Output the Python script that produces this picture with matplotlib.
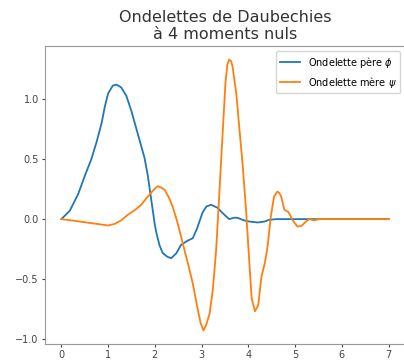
import matplotlib
matplotlib.use('Agg')
import matplotlib.pyplot as plt

# Daubechies db4 scaling function (phi) and wavelet (psi), sampled points
phi_x = [0.0, 0.18, 0.36, 0.50, 0.64, 0.75, 0.86, 0.93, 1.0, 1.10, 1.18, 1.28, 1.39,
         1.50, 1.64, 1.78, 1.85, 1.92, 2.00, 2.03, 2.10, 2.17, 2.27, 2.35, 2.46,
         2.56, 2.70, 2.81, 2.90, 3.02, 3.10, 3.20, 3.34, 3.45, 3.59, 3.70, 3.77,
         3.90, 4.02, 4.20, 4.35, 4.44, 4.60, 4.87, 7.0]
phi_y = [0.0, 0.07, 0.21, 0.36, 0.50, 0.64, 0.80, 0.94, 1.05, 1.115, 1.124, 1.10, 1.03,
         0.90, 0.705, 0.51, 0.36, 0.17, -0.05, -0.11, -0.22, -0.285, -0.315, -0.326, -0.285,
         -0.215, -0.18, -0.16, -0.08, 0.055, 0.105, 0.12, 0.095, 0.05, 0.0, 0.012, 0.011,
         -0.01, -0.02, -0.028, -0.02, -0.006, 0.0, 0.0, 0.0]

psi_x = [0.0, 0.3, 0.57, 0.8, 1.0, 1.14, 1.28, 1.42, 1.57, 1.71, 1.82, 1.92,
         2.0, 2.06, 2.13, 2.21, 2.30, 2.38, 2.47, 2.56, 2.64, 2.72, 2.81, 2.92,
         2.98, 3.04, 3.10, 3.17, 3.24, 3.31, 3.38, 3.45, 3.51, 3.55, 3.59, 3.63,
         3.66, 3.74, 3.81, 3.88, 3.95, 4.02, 4.07, 4.14, 4.21, 4.28, 4.35, 4.41,
         4.48, 4.55, 4.62, 4.66, 4.70, 4.77, 4.86, 4.94, 5.05, 5.14, 5.23, 5.30,
         5.40, 5.51, 7.0]
psi_y = [0.0, -0.015, -0.03, -0.042, -0.053, -0.04, -0.01, 0.036, 0.075, 0.12, 0.175, 0.22,
         0.255, 0.275, 0.265, 0.245, 0.18, 0.105, -0.01, -0.145, -0.27, -0.39, -0.536, -0.76,
         -0.87, -0.93, -0.88, -0.79, -0.59, -0.26, 0.22, 0.72, 1.14, 1.29, 1.333, 1.32,
         1.277, 1.054, 0.747, 0.44, 0.078, -0.36, -0.66, -0.77, -0.72, -0.48, -0.37, -0.23,
         0.022, 0.19, 0.23, 0.22, 0.19, 0.078, 0.058, -0.006, -0.062, -0.056, -0.02, 0.0,
         -0.01, 0.0, 0.0]

fig = plt.figure(figsize=(4.04, 3.62), dpi=100)
ax = fig.add_axes([45 / 404, 18 / 362, 360 / 404, 298 / 362])

ax.plot(phi_x, phi_y, lw=1.3, label='Ondelette père $\\phi$')
ax.plot(psi_x, psi_y, lw=1.3, label='Ondelette mère $\\psi$')

ax.set_title('Ondelettes de Daubechies\nà 4 moments nuls', fontsize=11.5, pad=5,
             color='#333333')
ax.tick_params(labelsize=7, colors='#444444', length=2.5, pad=2)
for spine in ax.spines.values():
    spine.set_color('#999999')
ax.legend(loc='upper right', fontsize=7)

fig.savefig('out.png', dpi=100)
